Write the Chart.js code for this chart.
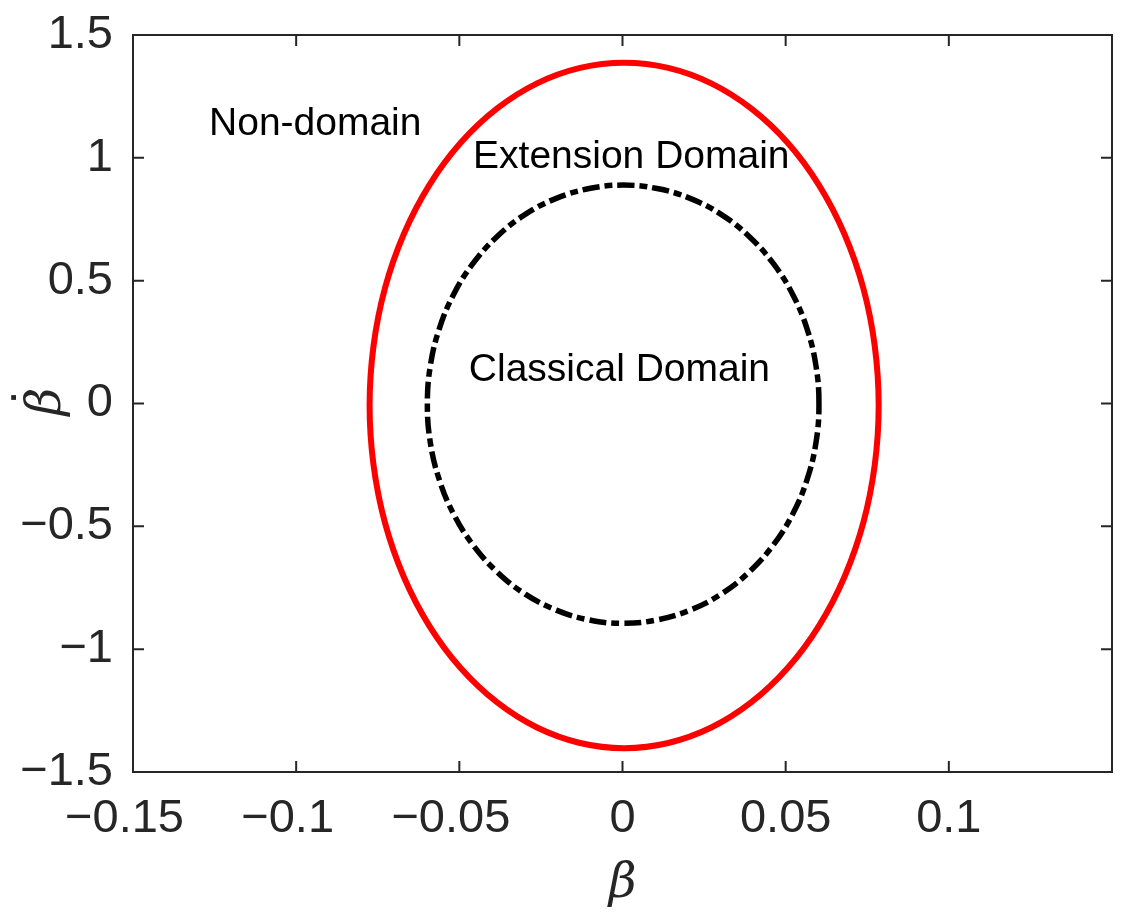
<!DOCTYPE html>
<html>
<head>
<meta charset="utf-8">
<script src="https://cdn.jsdelivr.net/npm/chart.js@4.4.1/dist/chart.umd.min.js"></script>
<style>
  body { margin: 0; background: #fff; }
  #plot { display: block; }
</style>
</head>
<body>
<canvas id="plot" width="1135" height="917"></canvas>
<script>
// boundary of the extension domain (red)
var extBeta = [0.0785, 0.0773, 0.0738, 0.0680, 0.0602, 0.0506, 0.0395, 0.0272, 0.0140, 0.0005,
  -0.0130, -0.0262, -0.0385, -0.0496, -0.0592, -0.0670, -0.0728, -0.0763, -0.0775,
  -0.0763, -0.0728, -0.0670, -0.0592, -0.0496, -0.0385, -0.0262, -0.0130, 0.0005,
  0.0140, 0.0272, 0.0395, 0.0506, 0.0602, 0.0680, 0.0738, 0.0773];
var extBetaDot = [-0.008, 0.234, 0.469, 0.690, 0.889, 1.061, 1.200, 1.303, 1.366, 1.387,
  1.366, 1.303, 1.200, 1.061, 0.889, 0.690, 0.469, 0.234, -0.008,
  -0.250, -0.485, -0.706, -0.905, -1.077, -1.216, -1.319, -1.382, -1.403,
  -1.382, -1.319, -1.216, -1.077, -0.905, -0.706, -0.485, -0.250];

// boundary of the classical domain (black dash-dot)
var clsBeta = [0.0602, 0.0593, 0.0566, 0.0522, 0.0462, 0.0388, 0.0302, 0.0207, 0.0106, 0.0002,
  -0.0102, -0.0203, -0.0298, -0.0384, -0.0458, -0.0518, -0.0562, -0.0589, -0.0598,
  -0.0589, -0.0562, -0.0518, -0.0458, -0.0384, -0.0298, -0.0203, -0.0102, 0.0002,
  0.0106, 0.0207, 0.0302, 0.0388, 0.0462, 0.0522, 0.0566, 0.0593];
var clsBetaDot = [-0.003, 0.152, 0.302, 0.443, 0.570, 0.680, 0.770, 0.835, 0.875, 0.889,
  0.875, 0.835, 0.770, 0.680, 0.570, 0.443, 0.302, 0.152, -0.003,
  -0.158, -0.308, -0.449, -0.576, -0.686, -0.776, -0.841, -0.881, -0.895,
  -0.881, -0.841, -0.776, -0.686, -0.576, -0.449, -0.308, -0.158];

var regionNames = ['Non-domain', 'Extension Domain', 'Classical Domain'];

// where the region names sit (data units, left / baseline)
var notePlaces = [
  { x: -0.1267, y: 1.093 },
  { x: -0.0458, y: 0.960 },
  { x: -0.0471, y: 0.092 }
];

var axisColor = '#262626';
var tickFont = { family: 'Liberation Sans, Arial, sans-serif', size: 47 };
var titleFont = { family: 'DejaVu Serif, serif', size: 48, style: 'italic' };

function toPoints(xs, ys) {
  return xs.map(function(v, i) { return { x: v, y: ys[i] }; });
}

function tickText(v) {
  var r = Math.round(v * 100) / 100;
  if (Math.abs(r) < 1e-9) return '0';
  return String(r).replace('-', '\u2212');
}

// close each curve like the radar line does, so the spline has no seam
var closedCurves = {
  id: 'closedCurves',
  afterDatasetUpdate: function(chart, args) {
    var line = args.meta.dataset;
    if (!line) return;
    line._loop = true;
    line._fullLoop = true;
    delete line._segments;
    delete line._path;
    line._pointsUpdated = false;
  }
};

var axesBox = {
  id: 'axesBox',
  afterDraw: function(chart) {
    var ctx = chart.ctx, a = chart.chartArea;
    var xs = chart.scales.x, ys = chart.scales.y;
    var len = 11;
    ctx.save();
    ctx.strokeStyle = axisColor;
    ctx.lineWidth = 2;
    ctx.beginPath();
    xs.ticks.forEach(function(t) {
      var px = xs.getPixelForValue(t.value);
      ctx.moveTo(px, a.bottom); ctx.lineTo(px, a.bottom - len);
      ctx.moveTo(px, a.top); ctx.lineTo(px, a.top + len);
    });
    ys.ticks.forEach(function(t) {
      var py = ys.getPixelForValue(t.value);
      ctx.moveTo(a.left, py); ctx.lineTo(a.left + len, py);
      ctx.moveTo(a.right, py); ctx.lineTo(a.right - len, py);
    });
    ctx.stroke();
    ctx.strokeRect(a.left, a.top, a.right - a.left, a.bottom - a.top);
    ctx.restore();
  }
};

// y title: beta with a dot above, written sideways
var yTitle = {
  id: 'yTitle',
  afterDraw: function(chart) {
    var ctx = chart.ctx, a = chart.chartArea;
    var cy = (a.top + a.bottom) / 2;
    ctx.save();
    ctx.fillStyle = axisColor;
    ctx.translate(0, cy);
    ctx.rotate(-Math.PI / 2);
    ctx.textAlign = 'center';
    ctx.textBaseline = 'alphabetic';
    ctx.font = 'italic 48px "DejaVu Serif", serif';
    ctx.fillText('\u03b2', 2, 60);
    ctx.font = '48px "DejaVu Sans", sans-serif';
    ctx.fillText('\u02d9', 6, 48);
    ctx.restore();
  }
};

var regionNotes = {
  id: 'regionNotes',
  afterDatasetsDraw: function(chart) {
    var ctx = chart.ctx;
    var xs = chart.scales.x, ys = chart.scales.y;
    ctx.save();
    ctx.fillStyle = '#000';
    ctx.font = '39px "Liberation Sans", Arial, sans-serif';
    ctx.textAlign = 'left';
    ctx.textBaseline = 'alphabetic';
    regionNames.forEach(function(name, i) {
      ctx.fillText(name, xs.getPixelForValue(notePlaces[i].x), ys.getPixelForValue(notePlaces[i].y));
    });
    ctx.restore();
  }
};

new Chart(document.getElementById('plot'), {
  type: 'scatter',
  data: {
    datasets: [
      {
        data: toPoints(extBeta, extBetaDot),
        showLine: true,
        borderColor: '#ff0000',
        borderWidth: 6,
        tension: 0.4,
        pointRadius: 0,
        fill: false
      },
      {
        data: toPoints(clsBeta, clsBetaDot),
        showLine: true,
        borderColor: '#000000',
        borderWidth: 5.5,
        borderDash: [17, 5, 8, 5],
        tension: 0.4,
        pointRadius: 0,
        fill: false
      }
    ]
  },
  options: {
    responsive: false,
    devicePixelRatio: 1,
    animation: false,
    layout: { padding: { top: 35, right: 23, left: 0, bottom: 0 } },
    plugins: {
      legend: { display: false },
      tooltip: { enabled: false }
    },
    scales: {
      x: {
        type: 'linear',
        min: -0.15,
        max: 0.15,
        grid: { display: false, drawTicks: false },
        border: { display: false },
        ticks: {
          stepSize: 0.05,
          color: axisColor,
          font: tickFont,
          padding: 19,
          maxRotation: 0,
          autoSkip: false,
          callback: function(v) {
            if (v > 0.149) return '';
            // matlab centres the digits, so the minus hangs out to the left
            return v < -1e-9 ? tickText(v) + ' \u200a' : tickText(v);
          }
        },
        title: {
          display: true,
          text: '\u03b2',
          color: axisColor,
          font: titleFont,
          padding: { top: 0, bottom: 4 }
        },
        afterFit: function(scale) {
          scale.height = 145;
          scale.paddingLeft = 0;
          scale.paddingRight = 0;
        }
      },
      y: {
        min: -1.5,
        max: 1.5,
        grid: { display: false, drawTicks: false },
        border: { display: false },
        ticks: {
          stepSize: 0.5,
          color: axisColor,
          font: tickFont,
          padding: 20,
          autoSkip: false,
          callback: function(v) { return tickText(v); }
        },
        title: { display: false },
        afterFit: function(scale) {
          scale.width = 133;
          scale.paddingTop = 0;
          scale.paddingBottom = 0;
        }
      }
    }
  },
  plugins: [closedCurves, axesBox, yTitle, regionNotes]
});
</script>
</body>
</html>
